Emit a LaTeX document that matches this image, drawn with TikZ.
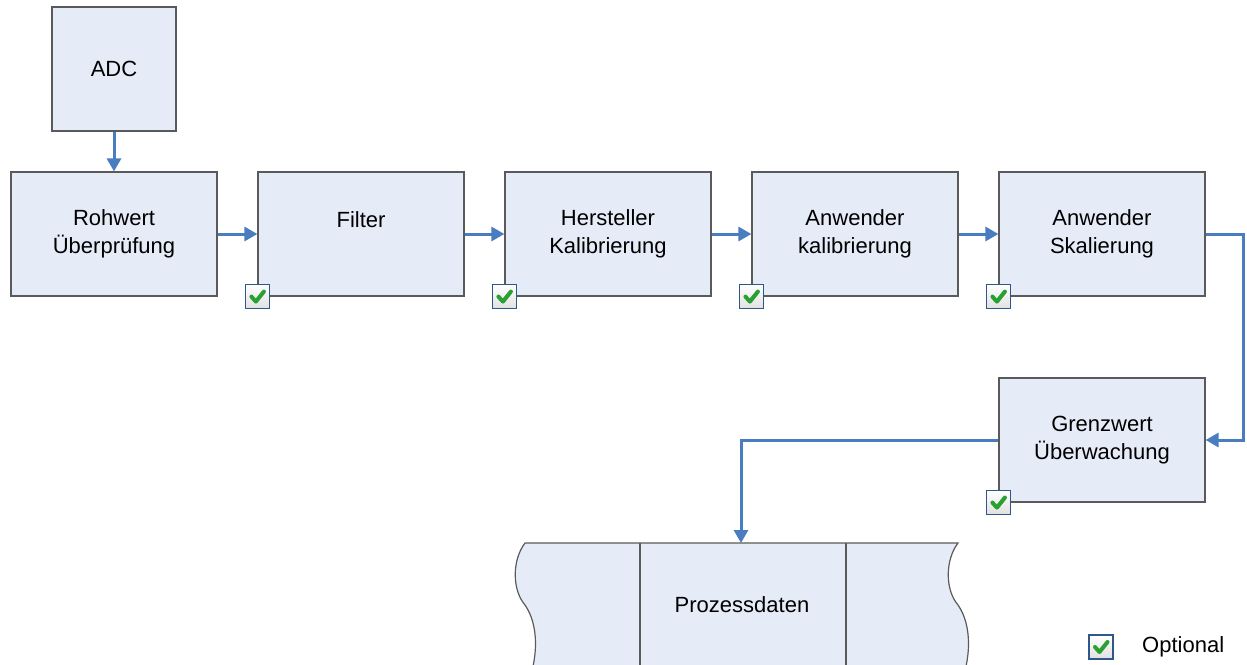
\documentclass[tikz,border=0pt]{standalone}
\usepackage{fontspec}
\setmainfont{Liberation Sans}
\usetikzlibrary{arrows.meta,calc}
\definecolor{boxfill}{RGB}{230,236,247}
\definecolor{boxline}{RGB}{90,90,90}
\definecolor{flow}{RGB}{74,124,192}
\definecolor{chkblue}{RGB}{46,88,138}
\definecolor{chkgreen}{RGB}{40,160,50}
\tikzset{
  x=1pt, y=-1pt,
  txt/.style={font=\fontsize{22}{28}\selectfont},
  block/.style={txt, draw=boxline, line width=1.2pt, fill=boxfill, minimum width=206pt, minimum height=124pt, inner sep=0pt, align=center},
  flowline/.style={draw=flow, line width=3pt, -{Triangle[length=13pt,width=14pt]}},
  checkbox/.style={draw=chkblue, line width=1.4pt, minimum size=24pt, inner sep=0pt, top color=white, bottom color=black!12,
    path picture={\draw[chkgreen, line width=4pt, line join=round, line cap=round]
      ($(path picture bounding box.center)+(-6,0)$) -- ++(4.5,5) -- ++(8,-10);}},
}
\begin{document}
\begin{tikzpicture}
\useasboundingbox (0,0) rectangle (1247,664);
\clip (0,0) rectangle (1247,664);
% Process data store
\path[fill=boxfill, draw=boxline, line width=1.2pt]
  (525,543) -- (958,543)
  .. controls (945,560) and (945,590) .. (958,605)
  .. controls (972,625) and (972,660) .. (958,690)
  -- (525,690)
  .. controls (539,660) and (539,625) .. (525,605)
  .. controls (512,590) and (512,560) .. (525,543) -- cycle;
\draw[boxline, line width=1.2pt] (640,543) -- (640,690) (846,543) -- (846,690);
\node[txt] (pd) at (742,605) {Prozessdaten};
\coordinate (pdtop) at (741,543);

\node[block, minimum width=124pt] (adc) at (114,69) {ADC};
\node[block] (roh) at (114,234) {Rohwert\\Überprüfung};
\node[block] (fil) at (361,234) {Filter\\\mbox{}};
\node[block] (her) at (608,234) {Hersteller\\Kalibrierung};
\node[block] (ank) at (855,234) {Anwender\\kalibrierung};
\node[block] (ans) at (1102,234) {Anwender\\Skalierung};
\node[block] (grz) at (1102,440) {Grenzwert\\Überwachung};

\node[checkbox] (c1) at (fil.south west) {};
\node[checkbox] (c2) at (her.south west) {};
\node[checkbox] (c3) at (ank.south west) {};
\node[checkbox] (c4) at (ans.south west) {};
\node[checkbox] (c5) at (grz.south west) {};

\draw[flowline] (adc) -- (roh);
\draw[flowline] (roh) -- (fil);
\draw[flowline] (fil) -- (her);
\draw[flowline] (her) -- (ank);
\draw[flowline] (ank) -- (ans);
\draw[flowline] (ans.east) -- (1243,234) |- (grz.east);
\draw[flowline] (grz.west) -| (pdtop);

\node[checkbox] (lc) at (1101,647) {};
\node[txt, anchor=west, inner sep=0pt] (lt) at (1142,647) {Optional};
\end{tikzpicture}
\end{document}
